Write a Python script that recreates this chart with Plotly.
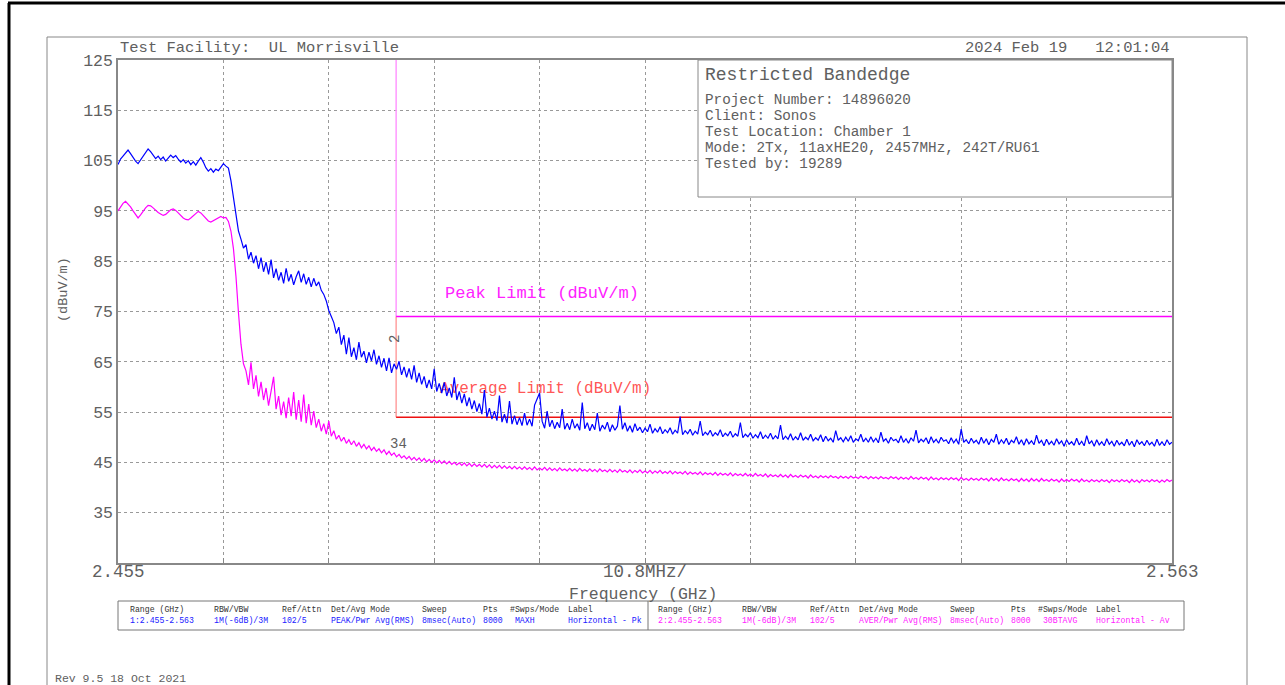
import numpy as np
import plotly.graph_objects as go

# sweep: 2.455 - 2.563 GHz, values at ~0.26 MHz steps
f_start, f_stop = 2.455, 2.563
peak_trace = [
    # 2.455 - 2.4663 plateau
    104.2, 105.3, 105.9, 106.6, 107.1, 106.4, 105.6, 104.9, 104.4, 105.1,
    105.8, 106.5, 107.3, 106.8, 106.2, 105.4, 105.9, 105.2, 105.7, 104.9,
    105.5, 106.1, 105.6, 106.0, 105.3, 104.7, 105.2, 104.5, 105.0, 104.2,
    104.8, 104.1, 104.9, 105.6, 104.7, 103.6, 102.9, 103.4, 102.7, 103.3,
    103.0, 103.8, 104.4, 103.9,
    # first drop
    103.5, 101.0, 97.6, 94.2, 91.0, 89.4, 87.6,
    88.3, 85.4, 86.8, 84.6, 86.1, 83.5, 85.7, 82.9, 84.8, 82.4,
    85.3, 81.7, 83.5, 81.2, 82.8, 80.6, 83.6, 81.0, 82.4, 80.3,
    81.9, 83.1, 80.8, 82.5, 80.4, 81.8, 79.9, 81.6, 80.1, 80.9,
    79.2,
    # second drop
    78.4, 77.1, 75.2, 74.0, 72.8, 70.6, 71.9, 68.4, 70.3,
    66.5, 69.8, 66.0, 67.8, 65.4, 68.9, 65.9, 67.1, 64.8, 66.9,
    65.2, 67.4, 64.5, 66.2, 63.9, 65.7, 63.2, 65.8, 62.8, 64.6,
    63.5, 65.1, 62.4, 64.0, 61.9, 63.7, 61.5, 64.3, 60.9, 62.8,
    60.5, 62.1, 59.8, 61.4, 59.6, 63.6, 59.1, 60.7, 58.8, 60.9,
    58.2, 59.8, 57.9, 61.9, 57.4, 59.1, 56.8, 58.6, 56.2, 57.9,
    55.6, 57.3, 55.1, 56.7, 54.6, 59.4, 54.0, 55.8, 53.6, 55.2,
    53.3, 58.3, 53.0, 54.6, 52.8, 57.2, 52.6, 54.3, 52.5, 53.9,
    52.3, 54.8, 52.4, 53.6, 52.2, 56.4, 57.6, 58.8,
    53.2, 51.8, 55.2, 52.1, 53.4, 51.7, 53.0, 51.9, 55.6, 51.6,
    52.8, 51.5, 53.6, 51.8, 52.7, 51.4, 56.9, 51.7, 52.9, 51.3,
    52.6, 51.5, 54.8, 51.2, 52.4, 51.6, 53.0, 51.1, 52.5, 51.4,
    52.2,
    56.3, 51.6, 52.9, 51.2, 52.3, 51.0, 52.7, 51.3, 52.0, 50.9,
    51.8, 51.1, 52.6, 50.8, 51.7, 51.0, 52.1, 50.7, 51.5, 50.9,
    51.9, 50.6, 51.4, 50.8, 54.1, 50.5, 51.3, 50.7, 51.6, 50.4,
    51.2, 50.6, 53.2, 50.3, 51.0, 50.5, 51.4, 50.2, 50.9, 50.4,
    51.5, 50.1, 50.8, 50.3, 51.2, 50.0, 50.7, 50.2, 52.9, 49.9,
    50.6, 50.1, 50.9, 49.8, 50.5, 49.9, 51.1, 49.7, 50.4, 49.8,
    50.8, 49.6, 50.3, 49.7, 52.4, 49.5, 50.2, 49.6, 50.7, 49.4,
    50.1, 49.5, 50.9, 49.4, 50.0, 49.5, 50.6, 49.3, 49.9, 49.4,
    50.5,
    # flat tail up to 2.563
    49.1, 50.2, 49.3, 49.8, 49.0, 51.3, 49.4, 49.9, 49.1, 50.0,
    49.2, 50.3, 49.0, 49.7, 49.3, 50.6, 49.1, 49.8, 49.0, 50.1,
    49.1, 49.8, 48.9, 51.0, 49.2, 49.7, 48.8, 50.0, 49.3, 49.6,
    48.9, 50.3, 49.0, 49.7, 48.8, 49.9, 49.2, 51.4, 48.9, 49.6,
    49.1, 49.9, 48.7, 50.1, 49.0, 49.6, 48.8, 50.0, 49.2, 49.5,
    48.7, 49.9, 48.9, 49.6, 48.6, 51.6, 49.0, 49.5, 48.7, 49.8,
    48.9, 49.4, 48.6, 50.0, 48.8, 49.7, 48.5, 49.6, 49.0, 50.6,
    48.6, 49.5, 48.8, 49.8, 48.5, 49.4, 48.9, 50.1, 48.6, 49.5,
    48.4, 49.7, 48.7, 49.3, 48.5, 50.4, 48.8, 49.4, 48.3, 49.6,
    48.6, 49.2, 48.4, 49.7, 48.7, 49.3, 48.2, 49.5, 48.6, 49.1,
    48.4, 49.8, 48.5, 49.2, 48.3, 50.3, 48.7, 49.3, 48.2, 49.5,
    48.5, 49.1, 48.3, 49.7, 48.6, 49.2, 48.2, 49.4, 48.5, 49.0,
    48.3, 49.6, 48.4, 49.2, 48.1, 49.5, 48.6, 49.1, 48.3, 49.4,
    48.5, 49.0, 48.2, 49.6, 48.4, 49.1, 48.3, 49.5, 48.6, 49.0,
]
avg_trace = [
    95.0, 95.9, 96.5, 96.9, 96.4, 95.8, 95.0, 94.3, 93.6, 94.2,
    95.0, 95.6, 96.1, 96.0, 95.6, 95.1, 94.7, 94.4, 94.1, 94.3,
    94.8, 95.2, 95.4, 95.1, 94.6, 94.0, 93.6, 93.3, 93.2, 93.6,
    94.1, 94.6, 94.9, 94.6, 94.0, 93.4, 93.0, 92.8, 93.1, 93.4,
    93.7, 93.9, 93.6, 93.7, 92.9, 91.0, 87.5, 82.0, 74.8, 68.5,
    64.6,
    63.2, 60.4, 64.9, 59.6, 62.3, 58.1, 61.0, 57.4, 59.8, 56.3,
    58.9, 62.0, 55.6, 58.2, 54.4, 57.1, 53.8, 57.9, 54.2, 59.0,
    53.5, 57.4, 53.1, 58.5, 52.8, 56.6, 52.4, 55.2, 51.9, 53.6,
    51.2, 52.7, 50.6, 53.2, 50.2, 51.3,
    49.6, 50.4, 49.2, 50.0, 48.8, 49.5, 48.5, 49.3, 48.2, 48.9,
    47.9, 48.6, 47.7, 48.3, 47.4, 48.0, 47.2, 47.7, 46.9, 47.5,
    46.6, 47.2, 46.4, 46.9, 46.1,
    46.6, 45.9, 46.3, 45.7, 46.2, 45.5, 46.0, 45.4, 45.9, 45.2,
    45.8, 45.1, 45.6, 45.0, 45.5, 44.9, 45.4, 44.8, 45.3, 44.7,
    45.2, 44.6, 45.0, 44.5, 44.9, 44.4, 44.9, 44.3, 44.8, 44.2,
    44.7, 44.2, 44.6, 44.1, 44.6, 44.0, 44.5, 43.9, 44.4, 43.9,
    44.4, 43.8, 44.3, 43.8, 44.2, 43.7, 44.2, 43.7, 44.1, 43.6,
    44.1, 43.6, 44.0, 43.5, 44.1, 43.5, 43.9, 43.5, 44.0,
    43.4, 43.9, 43.4, 43.8, 43.3, 43.9, 43.4, 43.7, 43.3, 43.8,
    43.3, 43.7, 43.2, 43.8, 43.3, 43.6, 43.2, 43.7, 43.2, 43.6,
    43.1, 43.7, 43.2, 43.5, 43.1, 43.6, 43.1, 43.5, 43.0, 43.6,
    43.1, 43.4, 43.0, 43.5, 42.9, 43.4, 43.0, 43.5, 42.9, 43.3,
    42.9, 43.4, 42.8, 43.3, 42.9, 43.4, 42.8, 43.2, 42.8, 43.3,
    42.7, 43.2, 42.8, 43.1, 42.7, 43.2, 42.6, 43.1, 42.7, 43.0,
    42.6, 43.1, 42.5, 43.0, 42.6, 42.9, 42.5, 43.0, 42.4, 42.9,
    42.5, 42.8, 42.4, 42.9, 42.3, 42.8, 42.4, 42.7, 42.3, 42.8,
    42.3, 42.7, 42.2, 42.8, 42.3, 42.6, 42.2, 42.7, 42.1, 42.6,
    42.2, 42.5, 42.1, 42.6, 42.1, 42.5, 42.0, 42.6, 42.1, 42.4,
    42.0, 42.5, 42.1, 42.4, 41.9, 42.5, 42.0, 42.3, 41.9, 42.4,
    42.0, 42.3, 41.9, 42.4, 42.0, 42.2, 41.8, 42.3, 41.9, 42.2,
    41.8, 42.3, 41.9, 42.1, 41.8, 42.3, 41.9, 42.2, 41.7, 42.2,
    41.8, 42.1, 41.7, 42.2, 41.8, 42.0, 41.7, 42.2, 41.8, 42.1,
    41.6, 42.1, 41.7, 42.0, 41.6, 42.2, 41.7, 42.0, 41.6, 42.1,
    41.7, 42.0, 41.5, 42.1, 41.6, 41.9, 41.5, 42.0, 41.6, 41.9,
    41.5, 42.0, 41.6, 41.9, 41.4, 42.0, 41.5, 41.8, 41.4, 41.9,
    41.5, 41.8, 41.4, 41.9, 41.5, 41.8, 41.3, 41.9, 41.4, 41.8,
    41.3, 41.9, 41.4, 41.7, 41.3, 41.8, 41.4, 41.7, 41.2, 41.8,
    41.3, 41.7, 41.2, 41.8, 41.3, 41.7, 41.2, 41.8, 41.3, 41.6,
    41.2, 41.7, 41.3, 41.6, 41.1, 41.7, 41.2, 41.6, 41.2, 41.7,
    41.3, 41.6, 41.1, 41.7, 41.2, 41.5, 41.1, 41.6, 41.2, 41.5,
    41.1, 41.6, 41.2, 41.5, 41.0, 41.6, 41.2, 41.5, 41.1, 41.6,
    41.2, 41.5, 41.0, 41.6, 41.1, 41.5, 41.0, 41.6, 41.2, 41.5,
    41.1, 41.6, 41.2, 41.5, 41.0, 41.5, 41.1, 41.6, 41.2, 41.5,
]
freq_pk = np.linspace(f_start, f_stop, len(peak_trace))
freq_av = np.linspace(f_start, f_stop, len(avg_trace))

band_edge = 2.4835
peak_limit_f = [band_edge, f_stop]
peak_limit = [74, 74]
avg_limit_f = [band_edge, f_stop]
avg_limit = [54, 54]

y_ticks = [35, 45, 55, 65, 75, 85, 95, 105, 115, 125]

info_lines = ["Project Number: 14896020", "Client: Sonos", "Test Location: Chamber 1",
              "Mode: 2Tx, 11axHE20, 2457MHz, 242T/RU61", "Tested by: 19289"]

tbl_head = ["Range (GHz)", "RBW/VBW", "Ref/Attn", "Det/Avg Mode", "Sweep", "Pts", "#Swps/Mode", "Label"]
tbl_pk = ["1:2.455-2.563", "1M(-6dB)/3M", "102/5", "PEAK/Pwr Avg(RMS)", "8msec(Auto)", "8000", " MAXH", "Horizontal - Pk"]
tbl_av = ["2:2.455-2.563", "1M(-6dB)/3M", "102/5", "AVER/Pwr Avg(RMS)", "8msec(Auto)", "8000", " 30BTAVG", "Horizontal - Av"]
tbl_cols = [128, 212, 280, 329, 420, 481, 508, 566]

FONT = "Liberation Mono"
GREY = "#606060"
L, R, T, B = 118, 1172, 60, 563


def px(x):
    return (x - L) / (R - L)


def py(y):
    return (B - y) / (B - T)


def label(x, y, s, size, color=GREY, anchor="left", angle=0):
    return dict(x=px(x), y=py(y), xref="paper", yref="paper", text=s, showarrow=False,
                xanchor=anchor, yanchor="middle", textangle=angle,
                font=dict(family=FONT, size=size, color=color))


fig = go.Figure()

# band edge + limit lines
fig.add_trace(go.Scatter(x=[band_edge, band_edge], y=[125, 74], mode="lines",
                         line=dict(color="#ff99ff", width=1.5), hoverinfo="skip"))
fig.add_trace(go.Scatter(x=[band_edge, band_edge], y=[74, 54], mode="lines",
                         line=dict(color="#ffa0a0", width=1.5), hoverinfo="skip"))
fig.add_trace(go.Scatter(x=peak_limit_f, y=peak_limit, mode="lines",
                         line=dict(color="#ff00ff", width=1.5), name="Peak Limit"))
fig.add_trace(go.Scatter(x=avg_limit_f, y=avg_limit, mode="lines",
                         line=dict(color="#ee1111", width=1.5), name="Average Limit"))
fig.add_trace(go.Scatter(x=[2.4880], y=[59.5], mode="text", text=["Average Limit (dBuV/m)"],
                         textposition="middle right",
                         textfont=dict(family=FONT, size=16, color="rgba(255,40,40,0.8)"),
                         hoverinfo="skip"))

fig.add_trace(go.Scatter(x=freq_av, y=avg_trace, mode="lines",
                         line=dict(color="#ff00ff", width=1.2), name="Horizontal - Av"))
fig.add_trace(go.Scatter(x=freq_pk, y=peak_trace, mode="lines",
                         line=dict(color="#0000ff", width=1.2), name="Horizontal - Pk"))

ann = [
    label(118, 48, "Test Facility:  UL Morrisville", 15.5, anchor="left"),
    label(1172, 48, "2024 Feb 19   12:01:04", 15.5, anchor="right"),
    label(703, 75, "Restricted Bandedge", 18),
    label(443, 293, "Peak Limit (dBuV/m)", 17, color="#ff22ff"),
    label(395, 339, "2", 14, angle=-90, anchor="center"),
    label(398, 444, "34", 14, anchor="center"),
    label(118, 572, "2.455", 17.5, anchor="center"),
    label(645, 572, "10.8MHz/", 17.5, anchor="center"),
    label(1172, 572, "2.563", 17.5, anchor="center"),
    label(643, 594, "Frequency (GHz)", 16.5, anchor="center"),
    label(63, 290, "(dBuV/m)", 13.5, angle=-90, anchor="center"),
    label(53, 678, "Rev 9.5 18 Oct 2021", 11.5),
]
for i, s in enumerate(info_lines):
    ann.append(label(703, 100 + 16 * i, s, 14.3))
for off, vals, col in [(0, tbl_pk, "#2020ff"), (528, tbl_av, "#ff22ff")]:
    for cx, h, v in zip(tbl_cols, tbl_head, vals):
        ann.append(label(cx + off, 609, h, 8.2, color="#333333"))
        ann.append(label(cx + off, 620, v, 8.2, color=col))

shapes = [
    # info box
    dict(type="rect", xref="paper", yref="paper", x0=px(698), x1=px(1172), y0=py(197), y1=py(60),
         fillcolor="white", line=dict(color="#888888", width=1), layer="above"),
    # page frames
    dict(type="line", xref="paper", yref="paper", x0=px(8), x1=px(1290), y0=py(3), y1=py(3),
         line=dict(color="black", width=3)),
    dict(type="line", xref="paper", yref="paper", x0=px(9), x1=px(9), y0=py(3), y1=py(690),
         line=dict(color="black", width=3)),
    dict(type="rect", xref="paper", yref="paper", x0=px(47), x1=px(1247), y0=py(700), y1=py(37),
         line=dict(color="#888888", width=1)),
    # settings table
    dict(type="rect", xref="paper", yref="paper", x0=px(118), x1=px(1184), y0=py(630), y1=py(601),
         line=dict(color="#777777", width=1)),
    dict(type="line", xref="paper", yref="paper", x0=px(648), x1=px(648), y0=py(630), y1=py(601),
         line=dict(color="#777777", width=1)),
]

fig.update_layout(
    width=1285, height=685,
    margin=dict(l=L, r=1285 - R, t=T, b=685 - B),
    plot_bgcolor="white", paper_bgcolor="white",
    showlegend=False,
    annotations=ann,
    shapes=shapes,
)
fig.update_xaxes(range=[f_start, f_stop], tickvals=list(np.linspace(f_start, f_stop, 11)),
                 showticklabels=False, ticks="inside", ticklen=5, tickcolor="#888888",
                 showgrid=True, gridcolor="#999999", griddash="dot", gridwidth=1,
                 showline=True, linecolor="#888888", linewidth=1.5, mirror=True, zeroline=False)
fig.update_yaxes(range=[25, 125], tickvals=y_ticks, ticks="",
                 tickfont=dict(family=FONT, size=16.5, color=GREY),
                 showgrid=True, gridcolor="#999999", griddash="dot", gridwidth=1,
                 showline=True, linecolor="#888888", linewidth=1.5, mirror=True, zeroline=False)

# drop the browser's default body margin so the page lines up with the window
fig.write_html("out.html", config={"displayModeBar": False},
               post_script="document.body.style.margin='0';")
